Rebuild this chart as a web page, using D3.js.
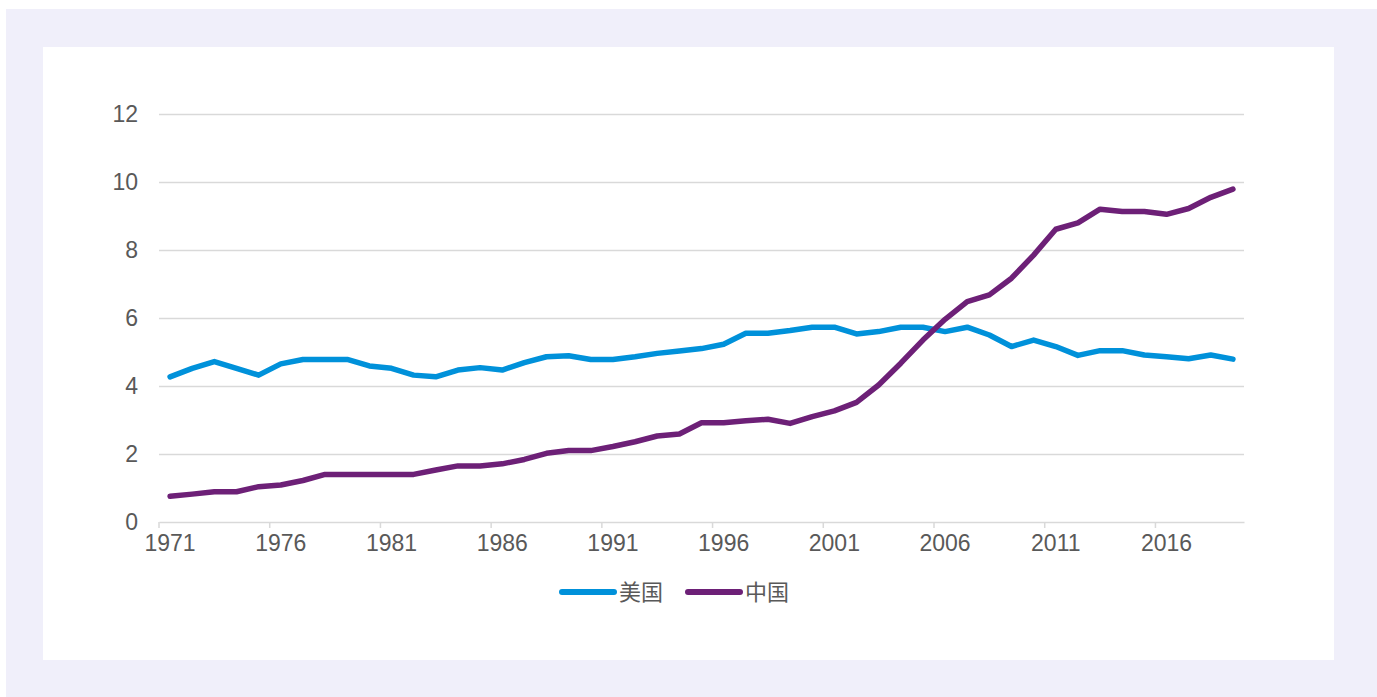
<!DOCTYPE html>
<html>
<head>
<meta charset="utf-8">
<script src="https://cdn.jsdelivr.net/npm/d3@7"></script>
<style>
  html, body { margin: 0; padding: 0; background: #ffffff; }
  svg { display: block; }
</style>
</head>
<body>
<svg id="chart" width="1377" height="697"></svg>
<script>
const years = [1971,1972,1973,1974,1975,1976,1977,1978,1979,1980,
  1981,1982,1983,1984,1985,1986,1987,1988,1989,1990,
  1991,1992,1993,1994,1995,1996,1997,1998,1999,2000,
  2001,2002,2003,2004,2005,2006,2007,2008,2009,2010,
  2011,2012,2013,2014,2015,2016,2017,2018,2019];

const usValues = [4.27,4.52,4.72,4.52,4.32,4.65,4.78,4.78,4.78,4.59,
  4.52,4.32,4.27,4.47,4.54,4.47,4.69,4.86,4.89,4.78,
  4.78,4.86,4.96,5.03,5.10,5.23,5.55,5.55,5.63,5.73,
  5.73,5.53,5.60,5.73,5.73,5.60,5.73,5.50,5.16,5.35,
  5.16,4.90,5.04,5.04,4.91,4.86,4.80,4.91,4.79];

const chinaValues = [0.76,0.82,0.89,0.89,1.04,1.09,1.22,1.40,1.40,1.40,
  1.40,1.40,1.53,1.65,1.65,1.71,1.84,2.02,2.10,2.10,
  2.22,2.36,2.53,2.59,2.92,2.92,2.98,3.02,2.90,3.10,
  3.27,3.52,4.03,4.67,5.35,5.96,6.48,6.68,7.17,7.85,
  8.61,8.80,9.20,9.13,9.13,9.05,9.22,9.55,9.79];

const yTicks = [0,2,4,6,8,10,12];
const xTickLabels = [1971,1976,1981,1986,1991,1996,2001,2006,2011,2016];
const seriesNames = ["美国","中国"];
const seriesColors = ["#0091DA","#6D2077"];

const svg = d3.select("#chart");

// backgrounds
svg.append("rect").attr("x",6).attr("y",9).attr("width",1371).attr("height",688).attr("fill","#F0EFFA");
svg.append("rect").attr("x",43).attr("y",47).attr("width",1291).attr("height",613).attr("fill","#ffffff");

const x = d3.scaleBand().domain(years).range([159,1244]).paddingInner(0).paddingOuter(0);
const y = d3.scaleLinear().domain([0,12]).range([522,114]);
const cx = d => x(d) + x.bandwidth()/2;

const textColor = "#595959";
const fontFam = "'Liberation Sans', Arial, sans-serif";

// gridlines
const grid = svg.append("g").attr("transform","translate(159,0)")
  .call(d3.axisLeft(y).tickValues(yTicks.filter(v=>v>0)).tickSize(-(1244-159)).tickFormat(""));
grid.select(".domain").remove();
grid.selectAll(".tick line").attr("stroke","#D9D9D9").attr("stroke-width",1.5);

// y labels
const yAxis = svg.append("g").attr("transform","translate(138,0)")
  .call(d3.axisLeft(y).tickValues(yTicks).tickSize(0).tickPadding(0));
yAxis.select(".domain").remove();
yAxis.selectAll("text").attr("fill",textColor).style("font-size","23px").style("font-family",fontFam);

// x axis
const xAxis = svg.append("g").attr("transform","translate(0,522)")
  .call(d3.axisBottom(x).tickValues(xTickLabels).tickSize(0).tickSizeOuter(0).tickPadding(13));
xAxis.select(".domain").attr("stroke","#D9D9D9").attr("stroke-width",1.5);
xAxis.selectAll("text").attr("fill",textColor).style("font-size","23px").style("font-family",fontFam);
xAxis.selectAll(".tick").append("line")
  .attr("x1", -x.bandwidth()/2).attr("x2", -x.bandwidth()/2)
  .attr("y1",0).attr("y2",6).attr("stroke","#D9D9D9").attr("stroke-width",1.5);

// lines
const line = d3.line().x((d,i)=>cx(years[i])).y(d=>y(d));
[usValues, chinaValues].forEach((vals,k)=>{
  svg.append("path").datum(vals)
    .attr("d",line).attr("fill","none")
    .attr("stroke",seriesColors[k]).attr("stroke-width",5.5)
    .attr("stroke-linejoin","round").attr("stroke-linecap","round");
});

// legend
const legendItems = [{x:560},{x:686}];
legendItems.forEach((it,k)=>{
  const g = svg.append("g").attr("transform",`translate(${it.x},592)`);
  g.append("line").attr("x1",2).attr("x2",54).attr("y1",0).attr("y2",0)
    .attr("stroke",seriesColors[k]).attr("stroke-width",6).attr("stroke-linecap","round");
  g.append("text").attr("x",59).attr("y",0).attr("dy","0.36em")
    .attr("fill",textColor).style("font-size","22px")
    .style("font-family","'Noto Sans CJK SC', sans-serif")
    .text(seriesNames[k]);
});
</script>
</body>
</html>
